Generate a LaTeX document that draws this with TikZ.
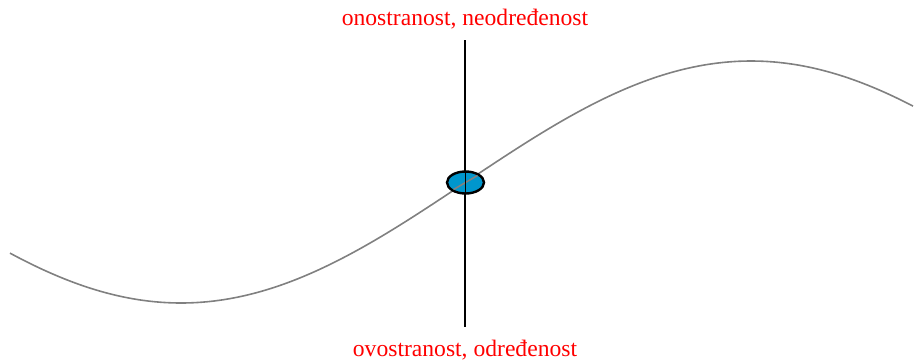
\documentclass[tikz,border=0pt]{standalone}
\usepackage{fontspec}
\setmainfont{Liberation Serif}
\usetikzlibrary{shapes.geometric}
\definecolor{dotblue}{RGB}{0,150,205}
\begin{document}
\begin{tikzpicture}[x=1pt, y=-1pt]
\tikzset{redtext/.style={text=red, font=\fontsize{23.6}{28}\selectfont, inner sep=0pt}}
\useasboundingbox (0,0) rectangle (915,360);
\draw[color=gray, line width=1.6pt] plot[domain=10:913, samples=120, smooth] (\x, {182-121*sin((\x-466)/570*180)});
\coordinate (top) at (465,40);
\coordinate (bottom) at (465,327);
\draw[line width=1.8pt] (top) -- (bottom);
\node[draw, ellipse, line width=2.4pt, fill=dotblue, minimum width=37pt, minimum height=22pt, inner sep=0pt] (dot) at (465.5,182.5) {};
\draw[color=gray, line width=1.6pt] (dot.center) ++(-12,7) -- ++(24,-14);
\draw[line width=1.8pt] (dot.north) -- (dot.south);
\node[redtext] (upper) at (465,19) {onostranost, neodređenost};
\node[redtext] (lower) at (465,350) {ovostranost, određenost};
\end{tikzpicture}
\end{document}
